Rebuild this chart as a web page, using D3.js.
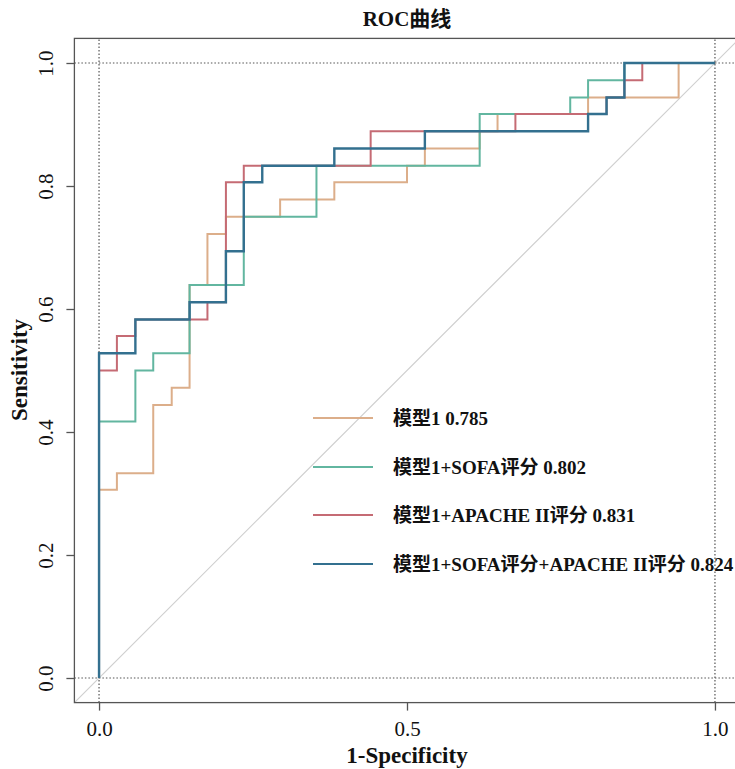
<!DOCTYPE html>
<html>
<head>
<meta charset="utf-8">
<script src="https://cdn.jsdelivr.net/npm/d3@7"></script>
<style>
  body { margin: 0; background: #fff; }
  svg { display: block; }
  text { font-family: "Liberation Serif", "Times New Roman", "Noto Sans CJK SC", serif; }
</style>
</head>
<body>
<svg id="roc"></svg>
<script>
var w = 735;
var h = 769;

// legend names and AUC
var categories = ['模型1', '模型1+SOFA评分', '模型1+APACHE II评分', '模型1+SOFA评分+APACHE II评分'];
var aucValues = [0.785, 0.802, 0.831, 0.824];
var colors = ['#dcae8a', '#62b6a0', '#c56b74', '#33708f'];

// ROC corner points (1-specificity, sensitivity)
var fprM1 = [0, 0, 0.029, 0.088, 0.118, 0.147, 0.176, 0.206, 0.294, 0.382, 0.5, 0.529, 0.618, 0.647, 0.794, 0.941, 1];
var tprM1 = [0, 0.306, 0.333, 0.444, 0.472, 0.639, 0.722, 0.75, 0.778, 0.806, 0.833, 0.861, 0.889, 0.917, 0.944, 1, 1];

var fprSofa = [0, 0, 0.059, 0.088, 0.147, 0.235, 0.353, 0.618, 0.765, 0.794, 0.853, 1];
var tprSofa = [0, 0.417, 0.5, 0.528, 0.639, 0.75, 0.833, 0.917, 0.944, 0.972, 1, 1];

var fprApache = [0, 0, 0.029, 0.059, 0.176, 0.206, 0.235, 0.441, 0.676, 0.824, 0.853, 0.882, 1];
var tprApache = [0, 0.5, 0.556, 0.583, 0.611, 0.806, 0.833, 0.889, 0.917, 0.944, 0.972, 1, 1];

var fprAll = [0, 0, 0.059, 0.147, 0.206, 0.235, 0.265, 0.382, 0.529, 0.794, 0.824, 0.853, 1];
var tprAll = [0, 0.528, 0.583, 0.611, 0.694, 0.806, 0.833, 0.861, 0.889, 0.917, 0.944, 1, 1];

var xTicks = [0, 0.5, 1];
var yTicks = [0, 0.2, 0.4, 0.6, 0.8, 1];

var series = [[fprM1, tprM1], [fprSofa, tprSofa], [fprApache, tprApache], [fprAll, tprAll]];

var x = d3.scaleLinear().domain([-0.04, 1.04]).range([74.4, 739.6]);
var y = d3.scaleLinear().domain([-0.04, 1.04]).range([702.6, 38.4]);

var svg = d3.select('#roc').attr('width', w).attr('height', h);

// Reference lines
svg.append('line')
  .attr('x1', x(-0.04)).attr('y1', y(-0.04))
  .attr('x2', x(1.04)).attr('y2', y(1.04))
  .attr('stroke', '#cfcfcf').attr('stroke-width', 1.2);

[0, 1].forEach(function (v) {
  svg.append('line')
    .attr('x1', x(v)).attr('x2', x(v))
    .attr('y1', y(-0.04)).attr('y2', y(1.04))
    .attr('stroke', '#555').attr('stroke-width', 1.2).attr('stroke-dasharray', '1.5,2');
  svg.append('line')
    .attr('y1', y(v)).attr('y2', y(v))
    .attr('x1', x(-0.04)).attr('x2', x(1.04))
    .attr('stroke', '#555').attr('stroke-width', 1.2).attr('stroke-dasharray', '1.5,2');
});

// Curves
var line = d3.line()
  .x(function (d) { return x(d[0]); })
  .y(function (d) { return y(d[1]); })
  .curve(d3.curveStepAfter);

series.forEach(function (s, i) {
  var pts = s[0].map(function (f, j) { return [f, s[1][j]]; });
  svg.append('path')
    .datum(pts)
    .attr('d', line)
    .attr('fill', 'none')
    .attr('stroke', colors[i])
    .attr('stroke-width', i === 3 ? 2.4 : 2);
});

// Frame
svg.append('rect')
  .attr('x', x(-0.04)).attr('y', y(1.04))
  .attr('width', x(1.04) - x(-0.04)).attr('height', y(-0.04) - y(1.04))
  .attr('fill', 'none').attr('stroke', '#555').attr('stroke-width', 1.3);

// Axes
var xAxis = svg.append('g')
  .attr('transform', 'translate(0,' + y(-0.04) + ')')
  .call(d3.axisBottom(x).tickValues(xTicks).tickSize(8).tickPadding(10).tickFormat(d3.format('.1f')));
xAxis.select('.domain').remove();
xAxis.selectAll('line').attr('stroke', '#555').attr('stroke-width', 1.3);
xAxis.selectAll('text').attr('font-size', '21px').attr('fill', '#111');

var yAxis = svg.append('g')
  .attr('transform', 'translate(' + x(-0.04) + ',0)')
  .call(d3.axisLeft(y).tickValues(yTicks).tickSize(8).tickFormat(d3.format('.1f')));
yAxis.select('.domain').remove();
yAxis.selectAll('line').attr('stroke', '#555').attr('stroke-width', 1.3);
yAxis.selectAll('text')
  .attr('font-size', '21px').attr('fill', '#111')
  .attr('text-anchor', 'middle')
  .attr('dy', null)
  .attr('x', null)
  .attr('transform', 'translate(-21,0) rotate(-90)');

// Titles
svg.append('text')
  .attr('x', 407).attr('y', 26)
  .attr('text-anchor', 'middle')
  .attr('font-size', '21px').attr('font-weight', 'bold').attr('fill', '#111')
  .text('ROC曲线');

svg.append('text')
  .attr('x', 407).attr('y', 763)
  .attr('text-anchor', 'middle')
  .attr('font-size', '23px').attr('font-weight', 'bold').attr('fill', '#111')
  .text('1-Specificity');

svg.append('text')
  .attr('transform', 'translate(27,370) rotate(-90)')
  .attr('text-anchor', 'middle')
  .attr('font-size', '23px').attr('font-weight', 'bold').attr('fill', '#111')
  .text('Sensitivity');

// Legend
var legendY = [418, 467, 515, 564];
var legend = svg.selectAll('.leg')
  .data(categories)
  .enter()
  .append('g')
  .attr('transform', function (d, i) { return 'translate(313,' + legendY[i] + ')'; });

legend.append('line')
  .attr('x1', 0).attr('x2', 60)
  .attr('stroke', function (d, i) { return colors[i]; })
  .attr('stroke-width', 2);

legend.append('text')
  .attr('x', 80).attr('dy', '0.35em')
  .attr('font-size', '19px').attr('font-weight', 'bold').attr('fill', '#111')
  .text(function (d, i) { return d + ' ' + aucValues[i].toFixed(3); });
</script>
</body>
</html>
